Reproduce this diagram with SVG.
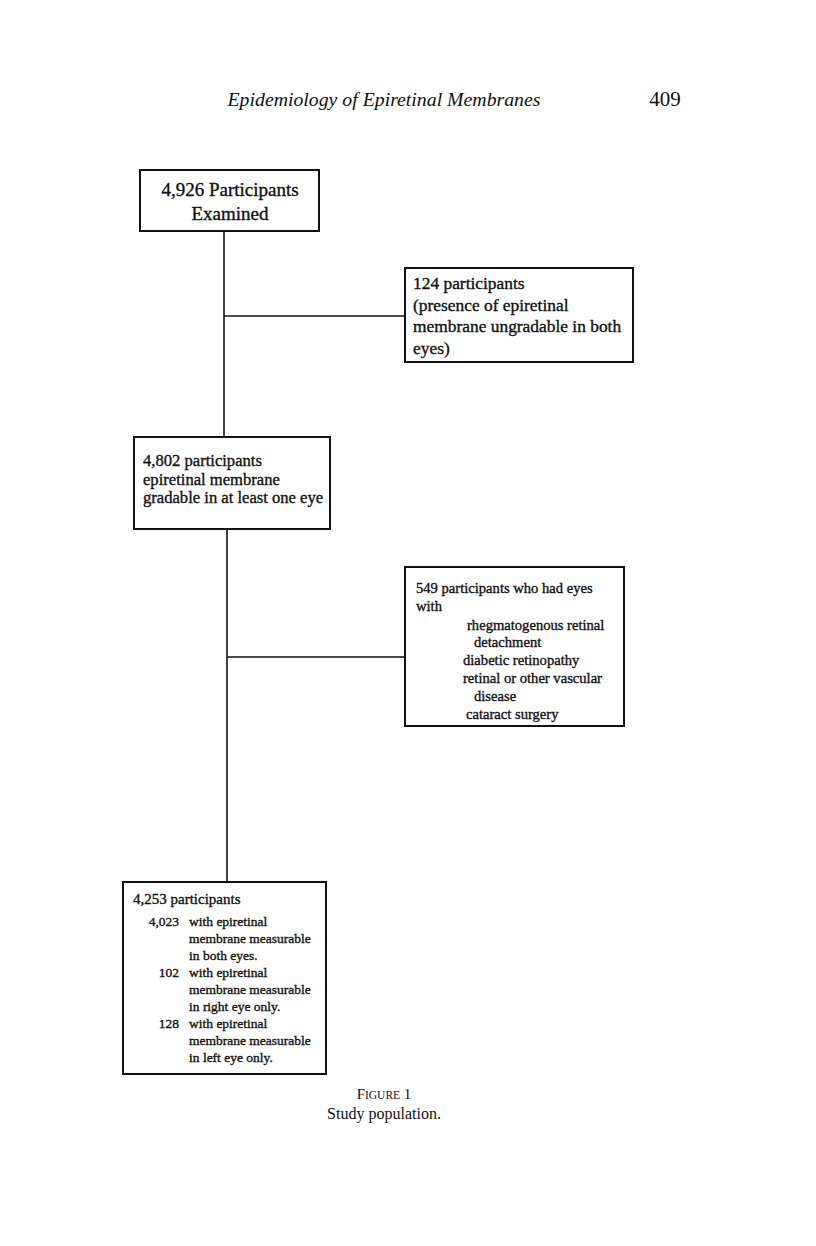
<svg xmlns="http://www.w3.org/2000/svg" width="816" height="1246" viewBox="0 0 816 1246">
<style>
  .box { fill: #fff; stroke: #111; stroke-width: 2; }
  .ln { stroke: #111; stroke-width: 1.6; fill: none; }
  text { font-family: "Liberation Serif", "Times New Roman", serif; fill: #111; }
  .b text { stroke: #111; stroke-width: 0.35; }
  .t1 { font-size: 19px; }
  .t2 { font-size: 17.4px; }
  .t3 { font-size: 16.6px; }
  .t4 { font-size: 14.6px; }
  .t5 { font-size: 13.5px; }
  .t5h { font-size: 15px; }
</style>
<rect width="816" height="1246" fill="#fff"/>
<text x="384" y="106" font-size="19.8" font-style="italic" text-anchor="middle">Epidemiology of Epiretinal Membranes</text>
<text x="665" y="106" font-size="21" text-anchor="middle">409</text>

<g id="connectors">
  <line class="ln" x1="224" y1="231" x2="224" y2="437"/>
  <line class="ln" x1="224" y1="316" x2="405" y2="316"/>
  <line class="ln" x1="227" y1="529" x2="227" y2="882"/>
  <line class="ln" x1="227" y1="657" x2="405" y2="657"/>
</g>

<g id="n1" class="b">
  <rect class="box" x="140" y="170" width="179" height="61"/>
  <text class="t1" x="230" y="196" text-anchor="middle">4,926 Participants</text>
  <text class="t1" x="230" y="220" text-anchor="middle">Examined</text>
</g>

<g id="n2" class="b">
  <rect class="box" x="405" y="268" width="228" height="94"/>
  <text class="t2" x="413" y="289">124 participants</text>
  <text class="t2" x="413" y="311">(presence of epiretinal</text>
  <text class="t2" x="413" y="332">membrane ungradable in both</text>
  <text class="t2" x="413" y="354">eyes)</text>
</g>

<g id="n3" class="b">
  <rect class="box" x="134" y="437" width="196" height="92"/>
  <text class="t3" x="143" y="466">4,802 participants</text>
  <text class="t3" x="143" y="485">epiretinal membrane</text>
  <text class="t3" x="143" y="503">gradable in at least one eye</text>
</g>

<g id="n4" class="b">
  <rect class="box" x="405" y="567" width="219" height="159"/>
  <text class="t4" x="416" y="593">549 participants who had eyes</text>
  <text class="t4" x="416" y="611">with</text>
  <text class="t4" x="467" y="630">rhegmatogenous retinal</text>
  <text class="t4" x="474" y="647">detachment</text>
  <text class="t4" x="463" y="665">diabetic retinopathy</text>
  <text class="t4" x="463" y="683">retinal or other vascular</text>
  <text class="t4" x="474" y="701">disease</text>
  <text class="t4" x="466" y="719">cataract surgery</text>
</g>

<g id="n5" class="b">
  <rect class="box" x="123" y="882" width="203" height="192"/>
  <text class="t5h" x="133" y="904">4,253 participants</text>
  <text class="t5" x="179" y="926" text-anchor="end">4,023</text>
  <text class="t5" x="189" y="926">with epiretinal</text>
  <text class="t5" x="189" y="943">membrane measurable</text>
  <text class="t5" x="189" y="960">in  both eyes.</text>
  <text class="t5" x="179" y="977" text-anchor="end">102</text>
  <text class="t5" x="189" y="977">with  epiretinal</text>
  <text class="t5" x="189" y="994">membrane measurable</text>
  <text class="t5" x="189" y="1011">in right eye only.</text>
  <text class="t5" x="179" y="1028" text-anchor="end">128</text>
  <text class="t5" x="189" y="1028">with  epiretinal</text>
  <text class="t5" x="189" y="1045">membrane measurable</text>
  <text class="t5" x="189" y="1062">in left eye only.</text>
</g>

<text x="384" y="1099" font-size="15" text-anchor="middle">F<tspan font-size="11.5">IGURE</tspan> 1</text>
<text x="384" y="1119" font-size="16" text-anchor="middle">Study population.</text>
</svg>
